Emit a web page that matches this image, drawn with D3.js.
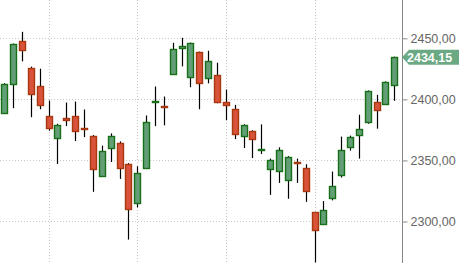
<!DOCTYPE html>
<html>
<head>
<meta charset="utf-8">
<script src="https://cdn.jsdelivr.net/npm/d3@7"></script>
<style>
  body { margin: 0; background: #fff; }
  svg { display: block; font-family: "Liberation Sans", Arial, sans-serif; }
</style>
</head>
<body>
<svg id="chart" width="459" height="263"></svg>
<script>
// daily candles, oldest first
const open  = [2388.3, 2412.3, 2447.3, 2425.3, 2410.6, 2386.2, 2368.2, 2384.5, 2386.2, 2375.8,
               2369.9, 2336.9, 2360.1, 2364.2, 2347.0, 2314.4, 2343.8, 2397.6, 2394.3, 2420.4,
               2441.6, 2418.0, 2438.3, 2417.1, 2419.6, 2397.6, 2391.9, 2369.9, 2373.9, 2358.5,
               2343.0, 2341.3, 2334.0, 2347.9, 2343.0, 2307.1, 2297.3, 2318.5, 2338.1, 2360.9,
               2370.7, 2381.3, 2397.6, 2396.0, 2411.4];
const close = [2412.3, 2444.9, 2440.0, 2403.8, 2395.1, 2376.4, 2378.8, 2382.9, 2373.9, 2374.8,
               2342.6, 2357.6, 2369.9, 2343.8, 2310.0, 2338.9, 2381.3, 2398.4, 2393.5, 2440.8,
               2443.2, 2445.7, 2413.1, 2431.0, 2397.6, 2395.1, 2371.5, 2378.8, 2367.4, 2359.3,
               2350.3, 2358.5, 2352.7, 2346.7, 2324.2, 2292.4, 2308.7, 2328.3, 2358.5, 2369.1,
               2375.6, 2406.5, 2391.1, 2413.9, 2434.15];
const high  = [2412.8, 2445.3, 2454.9, 2426.4, 2424.7, 2398.6, 2379.6, 2397.0, 2397.8, 2391.3,
               2370.4, 2361.7, 2371.7, 2365.2, 2347.4, 2344.8, 2386.4, 2410.1, 2401.9, 2445.9,
               2450.0, 2446.1, 2438.7, 2439.4, 2429.6, 2407.6, 2395.1, 2379.2, 2374.3, 2379.1,
               2351.1, 2360.3, 2353.1, 2351.1, 2346.5, 2307.5, 2316.3, 2340.5, 2369.1, 2369.9,
               2387.0, 2406.9, 2403.3, 2414.3, 2434.55];
const low   = [2387.8, 2392.4, 2430.7, 2385.0, 2391.5, 2373.9, 2346.7, 2377.7, 2365.5, 2368.7,
               2323.9, 2336.1, 2348.3, 2334.5, 2284.8, 2311.2, 2342.6, 2377.7, 2378.3, 2420.0,
               2426.6, 2409.5, 2391.5, 2412.7, 2396.4, 2382.6, 2367.1, 2359.8, 2351.6, 2354.9,
               2321.4, 2331.2, 2318.2, 2331.2, 2315.7, 2266.0, 2296.9, 2316.9, 2335.6, 2357.6,
               2351.1, 2379.6, 2375.6, 2395.1, 2398.4];
const yTicks = [2300, 2350, 2400, 2450];
const gridEvery = [5, 15, 25, 35];
const lastPrice = 2434.15;

const svg = d3.select("#chart");
const width = 459, height = 263;
const axisX = 402;

const candles = open.map((o, i) => ({ i, o, c: close[i], h: high[i], l: low[i] }));

const x = d3.scaleLinear().domain([0, candles.length - 1]).range([4.3, 394.3]);
const y = d3.scaleLinear().domain([2300, 2450]).range([221, 37.8]);

const fmt = v => d3.format(".2f")(v).replace(".", ",");

// grid
const grid = svg.append("g").attr("stroke", "#c8c8c8").attr("stroke-dasharray", "1,2");
grid.selectAll(".hg")
    .data(yTicks)
    .enter()
    .append("line")
    .attr("x1", 0)
    .attr("x2", axisX)
    .attr("y1", d => Math.round(y(d)) + 0.5)
    .attr("y2", d => Math.round(y(d)) + 0.5);
grid.selectAll(".vg")
    .data(gridEvery)
    .enter()
    .append("line")
    .attr("x1", d => Math.round(x(d)) + 0.5)
    .attr("x2", d => Math.round(x(d)) + 0.5)
    .attr("y1", 0)
    .attr("y2", height);

// right axis
const axis = d3.axisRight(y)
    .tickValues(yTicks)
    .tickSize(5)
    .tickPadding(3)
    .tickFormat(fmt);
const ax = svg.append("g")
    .attr("transform", `translate(${axisX + 0.5},0)`)
    .call(axis);
ax.select(".domain").remove();
ax.selectAll(".tick line").attr("stroke", "#888").attr("transform", "translate(0,0.5)");
ax.selectAll(".tick text")
    .attr("fill", "#666")
    .style("font-size", "12.5px")
    .attr("dy", "0.35em");
svg.append("line")
    .attr("x1", axisX + 0.5).attr("x2", axisX + 0.5)
    .attr("y1", 0).attr("y2", height)
    .attr("stroke", "#888");

// candles
const cg = svg.append("g");
const item = cg.selectAll(".candle")
    .data(candles)
    .enter()
    .append("g")
    .attr("class", "candle");

item.append("line")
    .attr("x1", d => Math.round(x(d.i)) + 0.5)
    .attr("x2", d => Math.round(x(d.i)) + 0.5)
    .attr("y1", d => y(d.h))
    .attr("y2", d => y(d.l))
    .attr("stroke", "#000")
    .attr("stroke-width", 1.2);

item.append("rect")
    .attr("x", d => Math.round(x(d.i)) - 3 + 0.5)
    .attr("width", 6)
    .attr("y", d => Math.round(y(Math.max(d.o, d.c))) + 0.5)
    .attr("height", d => Math.max(1, Math.round(Math.abs(y(d.o) - y(d.c)))))
    .attr("fill", d => d.c >= d.o ? "#629f77" : "#d8533a")
    .attr("stroke", d => d.c >= d.o ? "#177017" : "#a8380f")
    .attr("stroke-width", 1.4);

// last price marker
const py = y(lastPrice);
svg.append("path")
    .attr("d", `M${axisX},${py} L${axisX + 7},${py - 7.5} L${width},${py - 7.5} L${width},${py + 7.5} L${axisX + 7},${py + 7.5} Z`)
    .attr("fill", "#6aa983");
svg.append("text")
    .attr("x", axisX + 5)
    .attr("y", py)
    .attr("dy", "0.36em")
    .attr("fill", "#fff")
    .style("font-size", "12.5px")
    .style("font-weight", "bold")
    .text(fmt(lastPrice));
</script>
</body>
</html>
